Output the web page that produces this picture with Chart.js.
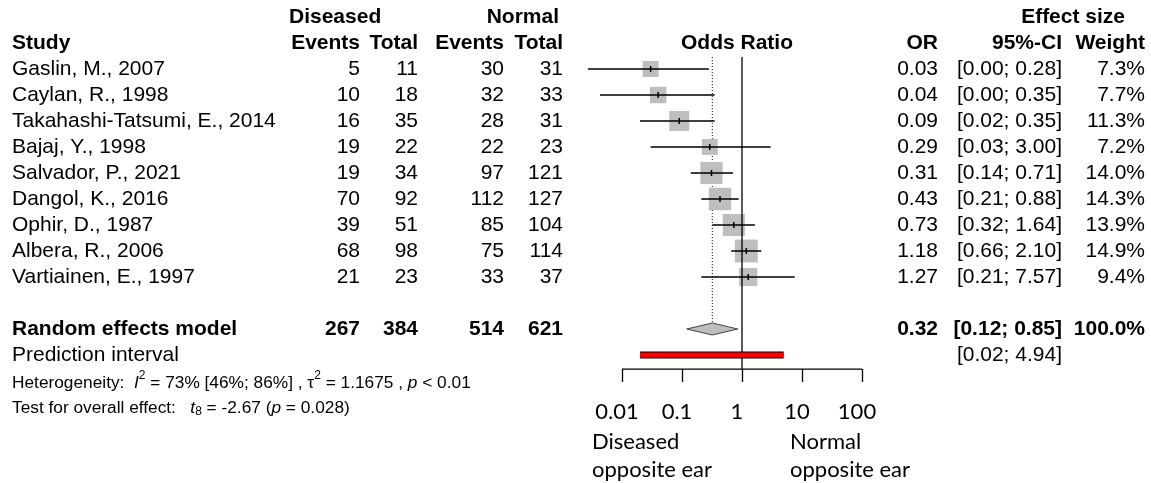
<!DOCTYPE html>
<html>
<head>
<meta charset="utf-8">
<script src="https://cdn.jsdelivr.net/npm/chart.js@4.4.0/dist/chart.umd.min.js"></script>
<style>
  html, body { margin: 0; padding: 0; background: #fff; }
  canvas { display: block; }
</style>
</head>
<body>
<canvas id="forest" width="1151" height="483"></canvas>
<script>
// Study rows, as printed in the forest plot
const studies = ['Gaslin, M., 2007', 'Caylan, R., 1998', 'Takahashi-Tatsumi, E., 2014', 'Bajaj, Y., 1998',
    'Salvador, P., 2021', 'Dangol, K., 2016', 'Ophir, D., 1987', 'Albera, R., 2006', 'Vartiainen, E., 1997'];
const diseasedEvents = [5, 10, 16, 19, 19, 70, 39, 68, 21];
const diseasedTotal = [11, 18, 35, 22, 34, 92, 51, 98, 23];
const normalEvents = [30, 32, 28, 22, 97, 112, 85, 75, 33];
const normalTotal = [31, 33, 31, 23, 121, 127, 104, 114, 37];
const oddsRatio = [0.03, 0.04, 0.09, 0.29, 0.31, 0.43, 0.73, 1.18, 1.27];
const ciLower = [0.0027, 0.0043, 0.02, 0.03, 0.14, 0.21, 0.32, 0.66, 0.21];
const ciUpper = [0.28, 0.35, 0.35, 3.00, 0.71, 0.88, 1.64, 2.10, 7.57];
const weights = [7.3, 7.7, 11.3, 7.2, 14.0, 14.3, 13.9, 14.9, 9.4];

// Pooled results
const pooledTotals = [267, 384, 514, 621];
const pooledOR = 0.32;
const pooledCI = [0.12, 0.85];
const predictionCI = [0.02, 4.94];

// x axis
const tickValues = [0.01, 0.1, 1, 10, 100];
const tickLabels = ['0.01', '0.1', '1', '10', '100'];

const SANS = '"Liberation Sans", Arial, Helvetica, sans-serif';
const F = 21;
const rowFont = F + 'px ' + SANS;
const boldFont = 'bold ' + F + 'px ' + SANS;
const pooledRow = 10;
const predRow = 11;
const axisRow = 11.54;

const fmt = v => v.toFixed(2);
const ciText = (lo, hi) => '[' + fmt(lo) + '; ' + fmt(hi) + ']';

function txt(ctx, s, x, y, align, font) {
    ctx.font = font;
    ctx.textAlign = align;
    ctx.fillText(s, x, y);
}

// pieces of text one after another (italics, super- and subscripts)
function runs(ctx, parts, x, y) {
    ctx.textAlign = 'left';
    parts.forEach(p => {
        ctx.font = p.font;
        ctx.fillText(p.t, x, y + (p.dy || 0));
        x += ctx.measureText(p.t).width;
    });
}

const tablePlugin = {
    id: 'forestTable',
    afterDatasetsDraw(chart) {
        const ctx = chart.ctx;
        const xs = chart.scales.x;
        const ys = chart.scales.y;
        const rowY = r => ys.getPixelForValue(r);
        ctx.save();
        ctx.fillStyle = '#000';
        ctx.textBaseline = 'middle';

        // headers
        txt(ctx, 'Diseased', 289, rowY(-2), 'left', boldFont);
        txt(ctx, 'Normal', 559, rowY(-2), 'right', boldFont);
        txt(ctx, 'Effect size', 1125, rowY(-2), 'right', boldFont);
        txt(ctx, 'Study', 12, rowY(-1), 'left', boldFont);
        txt(ctx, 'Events', 360, rowY(-1), 'right', boldFont);
        txt(ctx, 'Total', 418, rowY(-1), 'right', boldFont);
        txt(ctx, 'Events', 504, rowY(-1), 'right', boldFont);
        txt(ctx, 'Total', 563, rowY(-1), 'right', boldFont);
        txt(ctx, 'Odds Ratio', 737, rowY(-1), 'center', boldFont);
        txt(ctx, 'OR', 938, rowY(-1), 'right', boldFont);
        txt(ctx, '95%-CI', 1062, rowY(-1), 'right', boldFont);
        txt(ctx, 'Weight', 1145, rowY(-1), 'right', boldFont);

        // study rows
        studies.forEach((s, i) => {
            const y = rowY(i);
            txt(ctx, s, 12, y, 'left', rowFont);
            txt(ctx, String(diseasedEvents[i]), 360, y, 'right', rowFont);
            txt(ctx, String(diseasedTotal[i]), 418, y, 'right', rowFont);
            txt(ctx, String(normalEvents[i]), 504, y, 'right', rowFont);
            txt(ctx, String(normalTotal[i]), 563, y, 'right', rowFont);
            txt(ctx, fmt(oddsRatio[i]), 938, y, 'right', rowFont);
            txt(ctx, ciText(ciLower[i], ciUpper[i]), 1062, y, 'right', rowFont);
            txt(ctx, weights[i].toFixed(1) + '%', 1145, y, 'right', rowFont);
        });

        // pooled rows
        let y = rowY(pooledRow);
        txt(ctx, 'Random effects model', 12, y, 'left', boldFont);
        [360, 418, 504, 563].forEach((x, k) => txt(ctx, String(pooledTotals[k]), x, y, 'right', boldFont));
        txt(ctx, fmt(pooledOR), 938, y, 'right', boldFont);
        txt(ctx, ciText(pooledCI[0], pooledCI[1]), 1062, y, 'right', boldFont);
        txt(ctx, '100.0%', 1145, y, 'right', boldFont);
        y = rowY(predRow);
        txt(ctx, 'Prediction interval', 12, y, 'left', rowFont);
        txt(ctx, ciText(predictionCI[0], predictionCI[1]), 1062, y, 'right', rowFont);

        // heterogeneity and overall test
        const sm = '17.3px ' + SANS, it = 'italic 17.3px ' + SANS, tiny = '12px ' + SANS;
        runs(ctx, [
            { t: 'Heterogeneity:  ', font: sm }, { t: 'I', font: it }, { t: '2', font: tiny, dy: -7 },
            { t: ' = 73% [46%; 86%] , ', font: sm }, { t: '\u03c4', font: sm }, { t: '2', font: tiny, dy: -7 },
            { t: ' = 1.1675 , ', font: sm }, { t: 'p', font: it }, { t: ' < 0.01', font: sm }
        ], 12, 383);
        runs(ctx, [
            { t: 'Test for overall effect:   ', font: sm }, { t: 't', font: it }, { t: '8', font: tiny, dy: 4 },
            { t: ' = -2.67 (', font: sm }, { t: 'p', font: it }, { t: ' = 0.028)', font: sm }
        ], 12, 408);

        // x axis
        const ay = rowY(axisRow);
        ctx.strokeStyle = '#000';
        ctx.lineWidth = 1.3;
        ctx.beginPath();
        ctx.moveTo(xs.getPixelForValue(tickValues[0]), ay);
        ctx.lineTo(xs.getPixelForValue(tickValues[tickValues.length - 1]), ay);
        tickValues.forEach(t => {
            const px = Math.round(xs.getPixelForValue(t)) + 0.5;
            ctx.moveTo(px, ay);
            ctx.lineTo(px, ay + 13);
        });
        ctx.stroke();
        const axFont = '22px Lato, "Open Sans", sans-serif';
        tickValues.forEach((t, k) => txt(ctx, tickLabels[k], xs.getPixelForValue(t) - 5, 412, 'center', axFont));
        txt(ctx, 'Diseased', 592, 442, 'left', axFont);
        txt(ctx, 'opposite ear', 592, 470, 'left', axFont);
        txt(ctx, 'Normal', 790, 442, 'left', axFont);
        txt(ctx, 'opposite ear', 790, 470, 'left', axFont);
        ctx.restore();
    }
};

// one broken line through all confidence intervals
const ciSegments = [];
studies.forEach((s, i) => {
    ciSegments.push({ x: ciLower[i], y: i }, { x: ciUpper[i], y: i }, { x: null, y: null });
});

new Chart(document.getElementById('forest'), {
    type: 'scatter',
    data: {
        datasets: [
            {
                label: 'Study weight',
                data: oddsRatio.map((v, i) => ({ x: v, y: i })),
                pointStyle: 'rect',
                pointRadius: weights.map(w => 4.19 * Math.sqrt(w)),
                backgroundColor: '#BEBEBE',
                borderWidth: 0,
                order: 6
            },
            {
                label: 'CI',
                data: ciSegments,
                showLine: true,
                spanGaps: false,
                borderColor: '#000',
                borderWidth: 1.3,
                pointRadius: 0,
                clip: false,
                order: 4
            },
            {
                label: 'OR',
                data: oddsRatio.map((v, i) => ({ x: v, y: i })),
                pointStyle: 'line',
                rotation: 90,
                pointRadius: 3,
                borderColor: '#000',
                borderWidth: 1.5,
                order: 1
            },
            {
                label: 'No effect',
                data: [{ x: 1, y: -0.46 }, { x: 1, y: axisRow }],
                showLine: true,
                borderColor: '#000',
                borderWidth: 1.3,
                pointRadius: 0,
                order: 5
            },
            {
                label: 'Pooled',
                data: [{ x: pooledOR, y: -0.46 }, { x: pooledOR, y: pooledRow - 0.23 }],
                showLine: true,
                borderColor: '#000',
                borderWidth: 1,
                borderDash: [1, 2],
                pointRadius: 0,
                order: 7
            },
            {
                label: 'Diamond',
                data: [
                    { x: pooledCI[0], y: pooledRow }, { x: pooledOR, y: pooledRow - 0.23 },
                    { x: pooledCI[1], y: pooledRow }, { x: pooledOR, y: pooledRow + 0.23 },
                    { x: pooledCI[0], y: pooledRow }
                ],
                showLine: true,
                fill: 'shape',
                backgroundColor: '#BEBEBE',
                borderColor: '#444',
                borderWidth: 1,
                pointRadius: 0,
                order: 3
            },
            {
                label: 'Prediction border',
                data: [{ x: predictionCI[0], y: predRow }, { x: predictionCI[1], y: predRow }],
                showLine: true,
                borderColor: '#000',
                borderWidth: 7,
                pointRadius: 0,
                order: 3
            },
            {
                label: 'Prediction interval',
                data: [{ x: predictionCI[0], y: predRow }, { x: predictionCI[1], y: predRow }],
                showLine: true,
                borderColor: '#FF0000',
                borderWidth: 5,
                pointRadius: 0,
                order: 2
            }
        ]
    },
    options: {
        responsive: false,
        animation: false,
        devicePixelRatio: 1,
        layout: { autoPadding: false, padding: { left: 622, right: 289, top: 0, bottom: 0 } },
        plugins: {
            legend: { display: false },
            tooltip: { enabled: false }
        },
        scales: {
            x: { type: 'logarithmic', min: 0.01, max: 100, display: false },
            y: { type: 'linear', min: -69 / 26, max: 414 / 26, reverse: true, display: false }
        }
    },
    plugins: [tablePlugin]
});
</script>
</body>
</html>
